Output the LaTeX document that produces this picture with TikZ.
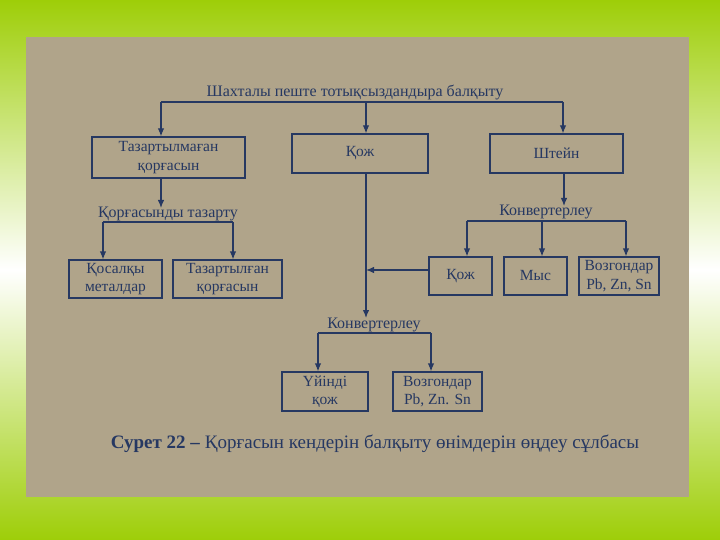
\documentclass[tikz,border=0pt]{standalone}
\usepackage{fontspec}
\setmainfont{Liberation Serif}
\usetikzlibrary{arrows.meta}
\definecolor{lime}{RGB}{158,206,8}
\definecolor{paper}{RGB}{176,164,138}
\definecolor{ink}{RGB}{38,56,98}
\tikzset{
  box/.style={draw=ink, line width=1.2pt, align=center, inner sep=0pt, text=ink, font=\fontsize{15.5}{18.5}\selectfont},
  arr/.style={draw=ink, line width=1.2pt, -{Latex[length=8pt,width=6.5pt]}},
  ln/.style={draw=ink, line width=1.2pt},
  lab/.style={text=ink, inner sep=0pt, anchor=base, font=\fontsize{16}{18}\selectfont}
}
\begin{document}
\begin{tikzpicture}[x=1pt,y=-1pt]
\useasboundingbox (0,0) rectangle (720,540);
\shade[top color=lime, bottom color=lime, middle color=white] (0,0) rectangle (720,540);
\fill[paper] (26,37) rectangle (689,497);
% title
\node[lab] (title) at (355,97) {Шахталы пеште тотықсыздандыра балқыту};
\coordinate (hA) at (161,102);
\coordinate (hB) at (366,102);
\coordinate (hC) at (563,102);
\draw[ln] (hA) -- (hC);
% top row
\node[box, minimum width=153pt, minimum height=41pt] (b1) at (168.5,157.5) {Тазартылмаған\\қорғасын};
\node[box, minimum width=136pt, minimum height=39pt] (b2) at (360,153.5) {Қож};
\node[box, minimum width=133pt, minimum height=39pt] (b3) at (556.5,153.5) {Штейн};
\draw[arr] (hA) -- (hA |- b1.north);
\draw[arr] (hB) -- (hB |- b2.north);
\draw[arr] (hC) -- (hC |- b3.north);
% left chain
\node[lab] (l2) at (168,218) {Қорғасынды тазарту};
\coordinate (lA) at (103,222);
\coordinate (lB) at (233,222);
\coordinate (lT) at (161,208);
\draw[arr] (b1.south -| lT) -- (lT);
\draw[ln] (lA) -- (lB);
\node[box, minimum width=93pt, minimum height=38pt] (b4) at (115.5,279) {Қосалқы\\металдар};
\node[box, minimum width=109pt, minimum height=38pt] (b5) at (227.5,279) {Тазартылған\\қорғасын};
\draw[arr] (lA) -- (lA |- b4.north);
\draw[arr] (lB) -- (lB |- b5.north);
% right chain
\node[lab] (r2) at (546,215) {Конвертерлеу};
\coordinate (rT) at (564,206);
\coordinate (rA) at (467,221);
\coordinate (rB) at (542,221);
\coordinate (rC) at (626,221);
\draw[arr] (b3.south -| rT) -- (rT);
\draw[ln] (rA) -- (rC);
\node[box, minimum width=63pt, minimum height=38pt] (b6) at (460.5,276) {Қож};
\node[box, minimum width=63pt, minimum height=38pt] (b7) at (535.5,276) {Мыс};
\node[box, minimum width=80pt, minimum height=38pt] (b8) at (619,276) {Возгондар\\Pb, Zn, Sn};
\draw[arr] (rA) -- (rA |- b6.north);
\draw[arr] (rB) -- (rB |- b7.north);
\draw[arr] (rC) -- (rC |- b8.north);
% centre chain
\coordinate (cT) at (366,318);
\draw[arr] (b2.south -| cT) -- (cT);
\coordinate (cJ) at (366,270);
\draw[arr] (b6.west |- cJ) -- (cJ);
\node[lab] (c2) at (374,328) {Конвертерлеу};
\coordinate (cA) at (318,333);
\coordinate (cB) at (431,333);
\draw[ln] (cA) -- (cB);
\node[box, minimum width=86pt, minimum height=39pt] (b9) at (325,391.5) {Үйінді\\қож};
\node[box, minimum width=89pt, minimum height=39pt] (b10) at (437.5,391.5) {Возгондар\\Pb, Zn. Sn};
\draw[arr] (cA) -- (cA |- b9.north);
\draw[arr] (cB) -- (cB |- b10.north);
% caption
\node[text=ink, anchor=base, inner sep=0pt, font=\fontsize{19}{21}\selectfont] (cap) at (375,448) {\textbf{Сурет 22 –} Қорғасын кендерін балқыту өнімдерін өңдеу сұлбасы};
\end{tikzpicture}
\end{document}
